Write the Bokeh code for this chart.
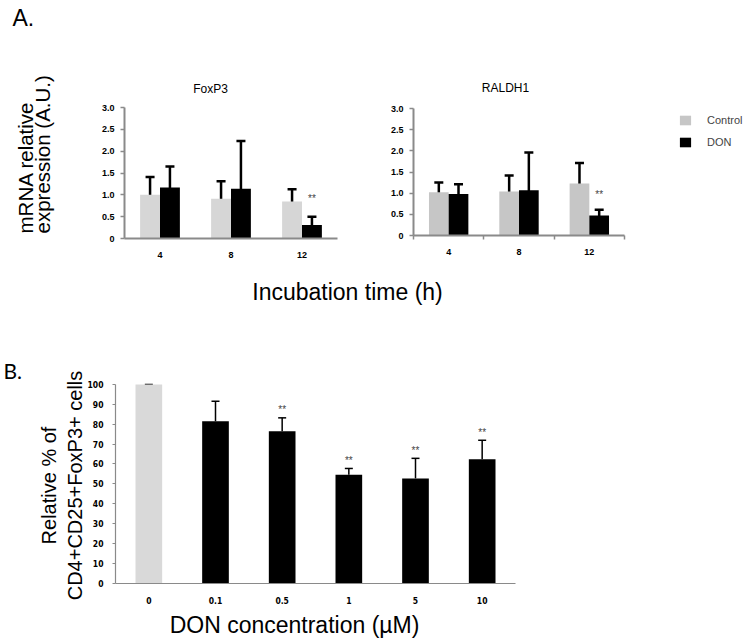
import math
from bokeh.plotting import figure
from bokeh.models import (ColumnDataSource, Range1d, Whisker, TeeHead, Label, Legend, LegendItem,
                          FixedTicker, NumeralTickFormatter, LinearAxis)
from bokeh.embed import file_html
from bokeh.resources import INLINE
from bokeh.core.properties import value

# ---------------- data ----------------
times = ["4", "8", "12"]
foxp3_control = [1.00, 0.91, 0.85]
foxp3_control_err = [0.41, 0.40, 0.28]
foxp3_don = [1.17, 1.14, 0.31]
foxp3_don_err = [0.48, 1.09, 0.19]
foxp3_sig = ["", "", "**"]
foxp3_sig_y = [None, None, 0.92]

raldh1_control = [1.02, 1.04, 1.23]
raldh1_control_err = [0.23, 0.38, 0.48]
raldh1_don = [0.98, 1.07, 0.47]
raldh1_don_err = [0.23, 0.89, 0.14]
raldh1_sig = ["", "", "**"]
raldh1_sig_y = [None, None, 0.97]

conc = ["0", "0.1", "0.5", "1", "5", "10"]
pct = [100, 81.5, 76.4, 54.5, 52.7, 62.3]
pct_err = [0, 10.1, 6.8, 3.2, 10.1, 9.6]
pct_sig = ["", "", "**", "**", "**", "**"]

a_yticks = [0, 0.5, 1.0, 1.5, 2.0, 2.5, 3.0]
b_yticks = [0, 10, 20, 30, 40, 50, 60, 70, 80, 90, 100]

# ---------------- styling / layout ----------------
W, H = 747, 643
FONT = "Liberation Sans"
NARROW = "'Liberation Sans Narrow', 'DejaVu Sans Condensed', 'Liberation Sans', Arial, sans-serif"
AXIS_GRAY = "#8a8a8a"


def lin_range(v0, p0, v1, p1, edge_start, edge_end):
    k = (v1 - v0) / (p1 - p0)
    return Range1d(start=v0 + (edge_start - p0) * k, end=v0 + (edge_end - p0) * k)


p = figure(width=W, height=H, x_range=Range1d(0, W), y_range=Range1d(H, 0),
           x_axis_type=None, y_axis_type=None, output_backend="svg", toolbar_location=None,
           min_border=0, outline_line_color=None)

x_ranges, y_ranges = {}, {}


def style_axis(ax, font, size, width):
    ax.axis_line_color = AXIS_GRAY
    ax.axis_line_width = width
    ax.major_label_text_font = font
    ax.major_label_text_font_size = size
    ax.major_label_text_font_style = "bold"
    ax.major_label_text_color = "black"


def panel_a(key, ctrl, ctrl_err, don, don_err, sig, sig_y, ctrl_color, frame, boundary_ticks):
    x0, x1, y0, y1 = frame  # pixel positions of x=0, x=n, y=0, y=3
    xn, yn = key + "x", key + "y"
    n = len(times)
    x_ranges[xn] = lin_range(0, x0, n, x1, 0, W)
    y_ranges[yn] = lin_range(0, y0, 3.0, y1, H, 0)
    centers = [i + 0.5 for i in range(n)]
    src = ColumnDataSource(dict(
        xc=[c - 0.14 for c in centers], xd=[c + 0.14 for c in centers],
        ctrl=ctrl, don=don,
        ctrl_lo=[v - e for v, e in zip(ctrl, ctrl_err)], ctrl_hi=[v + e for v, e in zip(ctrl, ctrl_err)],
        don_lo=[v - e for v, e in zip(don, don_err)], don_hi=[v + e for v, e in zip(don, don_err)],
        sig=sig, sig_y=[float("nan") if s is None else s for s in sig_y]))
    rc = p.vbar(x="xc", top="ctrl", bottom=0, width=0.28, source=src, fill_color=ctrl_color,
                line_color=None, x_range_name=xn, y_range_name=yn)
    rd = p.vbar(x="xd", top="don", bottom=0, width=0.28, source=src, fill_color="black",
                line_color=None, x_range_name=xn, y_range_name=yn)
    for base, lo, hi in (("xc", "ctrl_lo", "ctrl_hi"), ("xd", "don_lo", "don_hi")):
        p.add_layout(Whisker(base=base, lower=lo, upper=hi, source=src, line_width=2.5,
                             line_color="black", x_range_name=xn, y_range_name=yn,
                             upper_head=TeeHead(size=9, line_width=2.5, line_color="black"),
                             lower_head=TeeHead(size=9, line_width=2.5, line_color="black")))
    p.text(x="xd", y="sig_y", text="sig", source=src, x_range_name=xn, y_range_name=yn,
           text_font=value(FONT), text_font_size="10px", text_align="center",
           text_baseline="middle", text_color="#444444")
    xa = LinearAxis(x_range_name=xn, y_range_name=yn, fixed_location=0, bounds=(0, n),
                    ticker=FixedTicker(ticks=centers,
                                       minor_ticks=list(range(n + 1)) if boundary_ticks else []),
                    major_label_overrides={c: t for c, t in zip(centers, times)})
    style_axis(xa, FONT, "9px", 2)
    xa.major_tick_line_color = None
    xa.major_label_standoff = 7
    xa.minor_tick_in = 0
    xa.minor_tick_out = 4
    xa.minor_tick_line_color = AXIS_GRAY
    xa.minor_tick_line_width = 1.5
    p.add_layout(xa, "below")
    ya = LinearAxis(x_range_name=xn, y_range_name=yn, fixed_location=0, bounds=(0, 3.0),
                    ticker=FixedTicker(ticks=a_yticks), formatter=NumeralTickFormatter(format="0.0"),
                    major_label_overrides={0: "0"})
    style_axis(ya, FONT, "9px", 2)
    ya.major_tick_out = 4
    ya.major_tick_in = 0
    ya.major_tick_line_color = AXIS_GRAY
    ya.major_tick_line_width = 1.5
    ya.minor_tick_line_color = None
    ya.major_label_standoff = 6
    p.add_layout(ya, "left")
    return rc, rd


panel_a("a1", foxp3_control, foxp3_control_err, foxp3_don, foxp3_don_err, foxp3_sig,
        foxp3_sig_y, "#d6d6d6", (124, 337, 238, 107), False)
rc2, rd2 = panel_a("a2", raldh1_control, raldh1_control_err, raldh1_don, raldh1_don_err,
                   raldh1_sig, raldh1_sig_y, "#c6c6c6", (413, 624, 235, 108), True)

# ---------------- panel B ----------------
nb = len(conc)
x_ranges["bx"] = lin_range(0, 115, nb, 515, 0, W)
y_ranges["by"] = lin_range(0, 582.5, 100, 384, H, 0)
bcent = [i + 0.5 for i in range(nb)]
bsrc = ColumnDataSource(dict(
    x=bcent, v=pct, hi=[v + e for v, e in zip(pct, pct_err)],
    color=["#d9d9d9"] + ["black"] * (nb - 1),
    sig=pct_sig, sig_y=[v + e + 4 for v, e in zip(pct, pct_err)]))
p.vbar(x="x", top="v", bottom=0, width=0.4, source=bsrc, fill_color="color", line_color=None,
       x_range_name="bx", y_range_name="by")
p.add_layout(Whisker(base="x", lower="v", upper="hi", source=bsrc, line_width=1.5,
                     line_color="black", x_range_name="bx", y_range_name="by",
                     upper_head=TeeHead(size=8, line_width=1.5, line_color="black"),
                     lower_head=None))
p.text(x="x", y="sig_y", text="sig", source=bsrc, x_range_name="bx", y_range_name="by",
       text_font=value(FONT), text_font_size="10px", text_align="center",
       text_baseline="middle", text_color="#444444")
bxa = LinearAxis(x_range_name="bx", y_range_name="by", fixed_location=0, bounds=(0, nb),
                 ticker=FixedTicker(ticks=bcent, minor_ticks=[]),
                 major_label_overrides={c: t for c, t in zip(bcent, conc)})
style_axis(bxa, NARROW, "8.5px", 1.2)
bxa.major_tick_line_color = None
bxa.minor_tick_line_color = None
bxa.major_label_standoff = 8
p.add_layout(bxa, "below")
bya = LinearAxis(x_range_name="bx", y_range_name="by", fixed_location=0, bounds=(0, 100),
                 ticker=FixedTicker(ticks=b_yticks, minor_ticks=[]))
style_axis(bya, NARROW, "8.5px", 1.2)
bya.major_tick_out = 3
bya.major_tick_in = 0
bya.major_tick_line_color = AXIS_GRAY
bya.minor_tick_line_color = None
bya.major_label_standoff = 9
p.add_layout(bya, "left")

p.extra_x_ranges = x_ranges
p.extra_y_ranges = y_ranges

# ---------------- legend ----------------
legend = Legend(items=[LegendItem(label="Control", renderers=[rc2]),
                       LegendItem(label="DON", renderers=[rd2])],
                location=(678, H - 148),
                glyph_width=14, glyph_height=12, label_height=12, spacing=10,
                padding=0, margin=0, label_standoff=15,
                border_line_color=None, background_fill_alpha=0,
                label_text_font=FONT, label_text_font_size="11px")
p.add_layout(legend)


# ---------------- texts ----------------
def add_label(text, x, y, size, align="left", angle=0, font=FONT):
    p.add_layout(Label(x=x, y=y, text=text, text_font=font, text_font_size=size,
                       text_align=align, text_baseline="middle", angle=angle,
                       text_color="black"))


add_label("A.", 12, 17, "23px")
add_label("mRNA relative", 25, 233, "20.5px", angle=math.pi / 2)
add_label("expression (A.U.)", 42, 233, "20.5px", angle=math.pi / 2)
add_label("FoxP3", 210, 88, "12px", align="center")
add_label("RALDH1", 505, 87, "12px", align="center")
add_label("Incubation time (h)", 347, 291, "23px", align="center")
add_label("B.", 3, 370, "21px", font="Lato")
add_label("Relative % of", 48, 485, "20px", align="center", angle=math.pi / 2)
add_label("CD4+CD25+FoxP3+ cells", 74, 485, "20px", align="center", angle=math.pi / 2)
add_label("DON concentration (\u00b5M)", 294, 624, "23px", align="center")

open("out.html", "w").write(file_html(p, INLINE))
